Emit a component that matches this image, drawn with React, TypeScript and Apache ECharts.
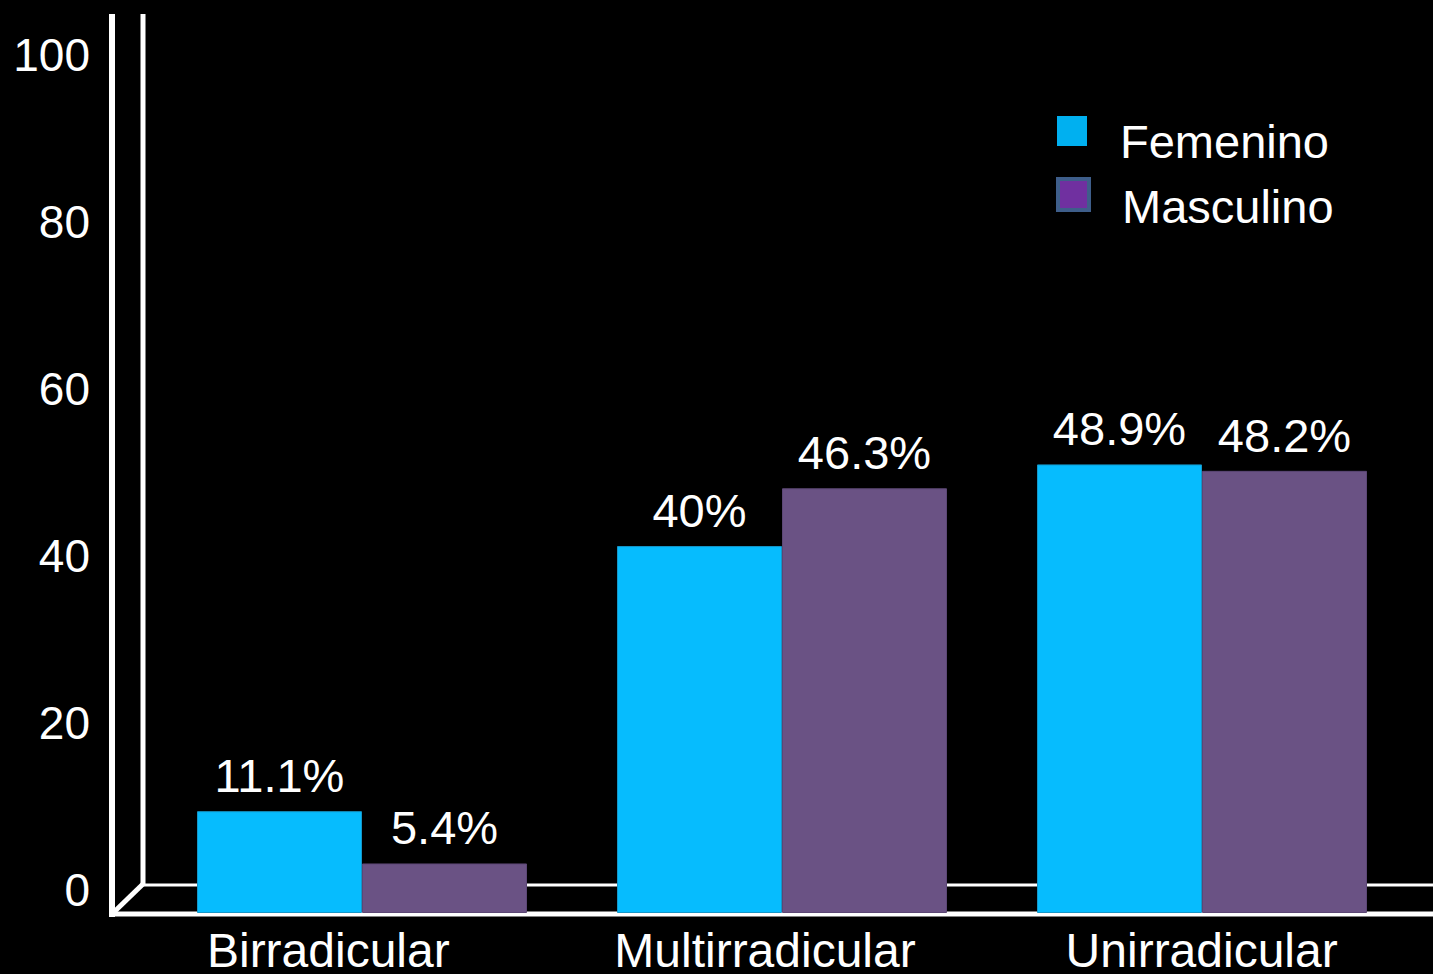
import React, { useEffect, useRef } from "react";
import * as echarts from "echarts";

const categories = ["Birradicular", "Multirradicular", "Unirradicular"];
const femenino = [11.1, 40, 48.9];
const masculino = [5.4, 46.3, 48.2];
const yTicks = { min: 0, max: 100, interval: 20 };

const FONT = "'Liberation Sans', Arial, Helvetica, sans-serif";

export default function App() {
  const ref = useRef<HTMLDivElement>(null);
  useEffect(() => {
    if (!ref.current) return;
    const chart = echarts.init(ref.current, undefined, { renderer: "svg" });
    const W = 1433;
    const H = 974;
    const labelStyle = {
      show: true,
      position: "top",
      distance: 12,
      color: "#ffffff",
      fontSize: 47,
      fontFamily: FONT,
      formatter: "{c}%",
    };
    chart.setOption({
      animation: false,
      backgroundColor: "#000000",
      textStyle: { fontFamily: FONT },
      grid: [
        { left: 152, right: 21, top: 14, bottom: H - 913 },
        { left: 110, right: 13, top: 55, bottom: H - 896 },
      ],
      xAxis: [
        { type: "category", gridIndex: 0, data: categories, show: false },
        {
          type: "category",
          gridIndex: 1,
          data: categories,
          axisLine: { show: false },
          axisTick: { show: false },
          axisLabel: { color: "#ffffff", fontSize: 48, margin: 36, fontFamily: FONT },
        },
      ],
      yAxis: [
        { type: "value", gridIndex: 0, min: 0, max: 98, show: false },
        {
          type: "value",
          gridIndex: 1,
          min: yTicks.min,
          max: yTicks.max,
          interval: yTicks.interval,
          axisLine: { show: false },
          axisTick: { show: false },
          splitLine: { show: false },
          axisLabel: { color: "#ffffff", fontSize: 46, margin: 20, fontFamily: FONT },
        },
      ],
      legend: [
        {
          left: 1057,
          top: 116,
          padding: 0,
          selectedMode: false,
          itemWidth: 30,
          itemHeight: 50,
          textStyle: { color: "#ffffff", fontSize: 47, fontFamily: FONT, padding: [0, 0, 0, 28] },
          data: [
            {
              name: "Femenino",
              icon: "path://M0,0L30,0L30,30L0,30ZM0,50",
              itemStyle: { color: "#00B0F0", borderWidth: 0 },
            },
          ],
        },
        {
          left: 1056,
          top: 177,
          padding: 0,
          selectedMode: false,
          itemWidth: 31,
          itemHeight: 54,
          textStyle: { color: "#ffffff", fontSize: 47, fontFamily: FONT, padding: [0, 0, 0, 28] },
          data: [
            {
              name: "Masculino",
              icon: "path://M0,0L31,0L31,31L0,31ZM0,54",
              itemStyle: { color: "#7030A0", borderColor: "#3E5E8A", borderWidth: 4 },
            },
          ],
        },
      ],
      graphic: [
        { type: "line", z: 0, shape: { x1: 112, y1: 14, x2: 112, y2: 917 }, style: { stroke: "#ffffff", lineWidth: 6 } },
        { type: "line", z: 0, shape: { x1: 143, y1: 14, x2: 143, y2: 886 }, style: { stroke: "#ffffff", lineWidth: 5 } },
        { type: "line", z: 0, shape: { x1: 143, y1: 885, x2: W, y2: 885 }, style: { stroke: "#ffffff", lineWidth: 3 } },
        { type: "line", z: 0, shape: { x1: 143, y1: 884, x2: 113, y2: 913 }, style: { stroke: "#ffffff", lineWidth: 5 } },
        { type: "line", z: 0, shape: { x1: 109, y1: 914, x2: W, y2: 914 }, style: { stroke: "#ffffff", lineWidth: 5 } },
      ],
      series: [
        {
          name: "Femenino",
          type: "bar",
          xAxisIndex: 0,
          yAxisIndex: 0,
          data: femenino,
          barWidth: 165,
          barGap: "0%",
          itemStyle: { color: "#06BCFE", borderColor: "#1596C8", borderWidth: 1 },
          label: labelStyle,
          z: 3,
        },
        {
          name: "Masculino",
          type: "bar",
          xAxisIndex: 0,
          yAxisIndex: 0,
          data: masculino,
          barWidth: 165,
          barGap: "0%",
          itemStyle: { color: "#6A5284", borderColor: "#5C4775", borderWidth: 1 },
          label: labelStyle,
          z: 3,
        },
      ],
    });
    return () => chart.dispose();
  }, []);
  return (
    <div
      ref={ref}
      style={{ position: "fixed", left: 0, top: 0, width: 1433, height: 974, background: "#000" }}
    />
  );
}
